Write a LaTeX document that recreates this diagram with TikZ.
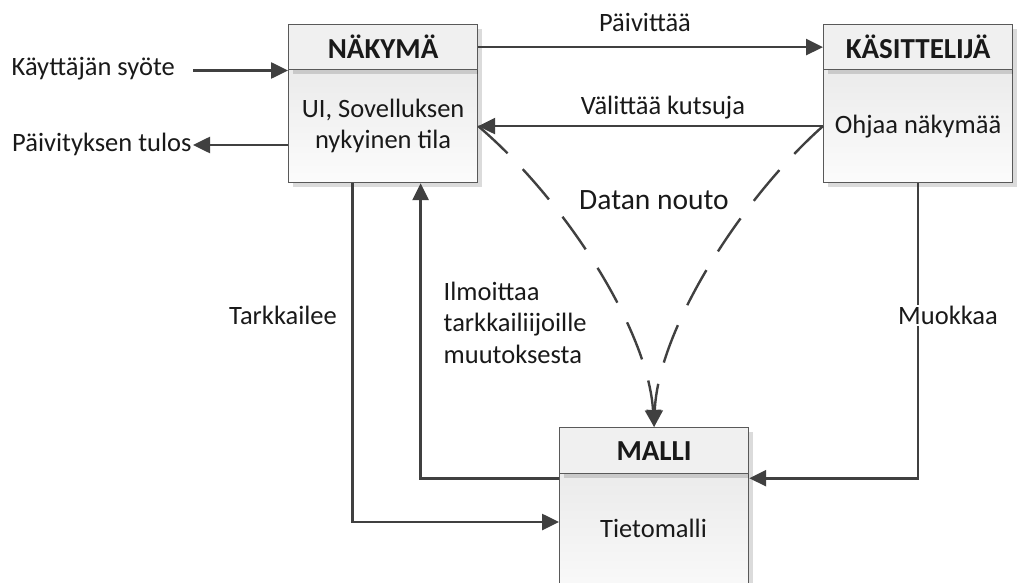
\documentclass[tikz,border=0pt]{standalone}
\usepackage{fontspec}
\setmainfont{Carlito}
\usetikzlibrary{arrows.meta,calc,shadows}
\definecolor{linegray}{HTML}{404040}
\definecolor{boxline}{HTML}{595959}
\definecolor{headfill}{HTML}{F0F0F0}
\definecolor{bodytop}{HTML}{EBEBEB}
\definecolor{bodybot}{HTML}{FCFCFC}
\begin{document}
\begin{tikzpicture}[x=1pt,y=-1pt,
  txt/.style={font=\fontsize{26.5}{31.5}\selectfont, inner sep=0pt, text=black!90},
  boxshadow/.style={drop shadow={shadow xshift=4pt, shadow yshift=-4pt, fill=black, opacity=0.14}},
  bodybox/.style={txt, draw=boxline, line width=1.2pt, top color=bodytop, bottom color=bodybot,
    minimum width=189pt, anchor=north west, align=center, boxshadow},
  headbox/.style={txt, font=\fontsize{29}{34}\selectfont\bfseries, draw=boxline, line width=1.2pt,
    fill=headfill, minimum width=189pt, minimum height=45pt, anchor=north west, boxshadow},
  wire/.style={draw=linegray, line width=2.6pt},
  arr/.style={wire, -{Triangle[length=17pt,width=16pt]}},
  pull/.style={arr, line width=2.4pt, dash pattern=on 40pt off 22pt},
]
\useasboundingbox (0,0) rectangle (1030,583);
\clip (0,0) rectangle (1030,583);

% boxes: body first, header on top
\node[bodybox, minimum height=113pt] (nakB) at (288,69) {UI, Sovelluksen\\nykyinen tila};
\node[headbox] (nakH) at (288,24) {NÄKYMÄ};
\node[bodybox, minimum height=113pt] (kasB) at (823,69) {Ohjaa näkymää};
\node[headbox] (kasH) at (823,24) {KÄSITTELIJÄ};
\node[bodybox, minimum height=140pt] (malB) at (559,473) {};
\node[headbox, minimum height=46pt] (malH) at (559,427) {MALLI};
\node[txt, anchor=base] (malT) at (653.5,537.5) {Tietomalli};

% view <-> controller
\draw[arr] (nakH.east) -- (kasH.west);
\draw[arr] (kasB.west) -- (nakB.east);
\node[txt, anchor=base] (lblP) at (645,32) {Päivittää};
\node[txt, anchor=base] (lblV) at (663,115) {Välittää kutsuja};

% user input and output
\node[txt, anchor=base west] (inp) at (11.5,76) {Käyttäjän syöte};
\coordinate (inpEnd) at (193,70.5);
\draw[arr] (inpEnd) -- (inpEnd -| nakH.west);
\node[txt, anchor=base west] (out) at (12,151.5) {Päivityksen tulos};
\coordinate (outEnd) at (193,145);
\draw[arr] (outEnd -| nakB.west) -- (outEnd);

% view / model / controller links
\draw[arr] ($(nakB.south)+(-30.5,0)$) |- ($(malB.north west)+(0,49)$);
\draw[arr] ($(malH.south west)+(0,4)$) -| ($(nakB.south)+(37.5,0)$);
\draw[arr] (kasB.south) |- ($(malH.south east)+(0,4)$);
\node[txt, anchor=base] (lblT) at (283,324.5) {Tarkkailee};
\node[txt, anchor=base, fill=white, inner sep=1pt] (lblM) at (948,324.5) {Muokkaa};
\node[txt, anchor=base west] (ilm1) at (443.5,300) {Ilmoittaa};
\node[txt, anchor=base west] (ilm2) at (443.5,331.5) {tarkkailiijoille};
\node[txt, anchor=base west] (ilm3) at (443.5,363) {muutoksesta};

% data fetch
\draw[pull] (nakB.east) .. controls (565,200) and (648,330) .. (malH.north);
\draw[pull] (kasB.west) .. controls (740,200) and (658,330) .. (malH.north);
\node[txt, font=\fontsize{29.5}{34}\selectfont, anchor=base] (lblD) at (654,209.5) {Datan nouto};
\end{tikzpicture}
\end{document}
